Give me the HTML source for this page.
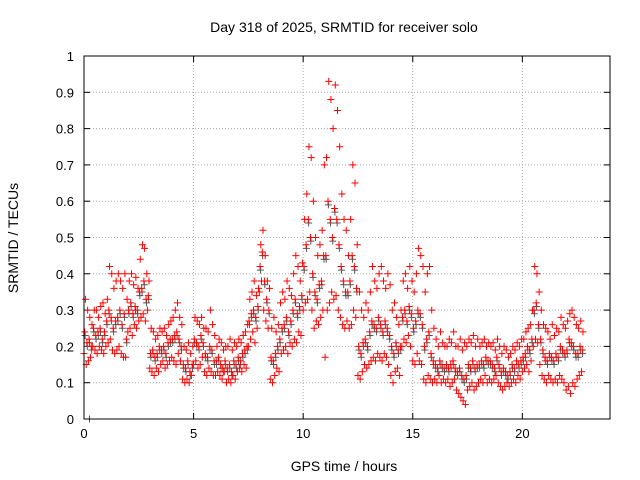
<!DOCTYPE html>
<html><head><meta charset="utf-8"><style>
body{margin:0;background:#fff;}
svg{display:block;font-family:"Liberation Sans",sans-serif;}
</style></head><body>
<svg id="chart" width="640" height="480">
<rect width="640" height="480" fill="#fff"/>
<text x="344" y="32" text-anchor="middle" font-size="14">Day 318 of 2025, SRMTID for receiver solo</text>
<text x="344" y="471" text-anchor="middle" font-size="14">GPS time / hours</text>
<text transform="translate(18,238) rotate(-90)" text-anchor="middle" font-size="14">SRMTID / TECUs</text>
<g id="grid"></g>
<g id="ticks"></g>
<g id="marks"></g>
<rect x="84" y="56" width="526" height="363" fill="none" stroke="#000" stroke-width="1"/>
</svg>
<script>
const xTicks=[0,5,10,15,20];
const yTicks=[0,0.1,0.2,0.3,0.4,0.5,0.6,0.7,0.8,0.9,1];
const yTickLabels=["0","0.1","0.2","0.3","0.4","0.5","0.6","0.7","0.8","0.9","1"];
const timeStep=0.1;
const loVals=[.18,.15,.16,.17,.20,.19,.18,.20,.19,.18,.20,.21,.22,.19,.18,.19,.20,.18,.17,.17,.24,.25,.23,.26,.25,.27,.28,.29,.27,.30,.14,.13,.12,.14,.13,.15,.16,.14,.15,.16,.17,.16,.15,.18,.16,.11,.10,.11,.10,.12,.15,.16,.14,.15,.17,.13,.12,.14,.13,.12,.12,.13,.12,.11,.13,.10,.11,.10,.12,.11,.13,.14,.13,.15,.14,.20,.22,.24,.21,.25,.35,.38,.30,.27,.25,.11,.10,.12,.14,.13,.18,.19,.20,.18,.21,.20,.22,.21,.24,.23,.30,.32,.33,.35,.30,.25,.27,.26,.28,.30,.17,.30,.32,.35,.33,.34,.30,.28,.26,.25,.27,.25,.26,.30,.28,.12,.11,.13,.15,.14,.15,.16,.17,.16,.18,.17,.16,.18,.17,.15,.12,.10,.13,.14,.12,.20,.22,.21,.23,.20,.16,.15,.18,.16,.15,.11,.10,.12,.11,.10,.11,.10,.12,.10,.11,.10,.11,.09,.10,.11,.08,.07,.06,.05,.04,.08,.09,.10,.08,.09,.10,.11,.10,.12,.10,.11,.10,.11,.12,.10,.09,.08,.09,.10,.09,.10,.11,.10,.12,.11,.13,.14,.15,.13,.16,.20,.22,.21,.15,.12,.11,.10,.12,.11,.10,.11,.10,.12,.11,.10,.08,.09,.07,.10,.09,.11,.12,.13];
const midVals=[.24,.21,.22,.20,.25,.23,.24,.25,.22,.24,.27,.30,.28,.25,.27,.28,.30,.26,.29,.22,.30,.32,.29,.31,.30,.35,.36,.38,.33,.34,.18,.19,.17,.18,.20,.19,.20,.18,.21,.22,.22,.23,.24,.22,.20,.15,.14,.16,.13,.15,.22,.21,.20,.23,.21,.18,.17,.20,.19,.16,.16,.17,.15,.14,.16,.14,.15,.13,.16,.15,.17,.16,.18,.19,.20,.27,.29,.30,.28,.31,.42,.46,.38,.33,.30,.17,.16,.18,.20,.22,.25,.26,.28,.24,.27,.30,.33,.29,.31,.34,.42,.48,.55,.50,.40,.35,.33,.37,.38,.45,.45,.60,.55,.50,.58,.55,.48,.42,.38,.35,.35,.38,.45,.42,.36,.20,.18,.21,.22,.20,.24,.27,.26,.25,.28,.26,.24,.27,.25,.23,.20,.18,.21,.19,.20,.28,.30,.27,.31,.29,.25,.27,.30,.29,.26,.20,.22,.24,.18,.16,.15,.14,.16,.15,.14,.15,.14,.15,.16,.14,.13,.14,.12,.11,.12,.15,.14,.16,.14,.15,.15,.16,.15,.17,.16,.16,.15,.14,.17,.15,.13,.14,.13,.12,.13,.15,.14,.16,.15,.16,.17,.18,.20,.19,.22,.30,.32,.26,.22,.19,.17,.16,.18,.17,.16,.18,.17,.20,.19,.18,.19,.22,.21,.20,.18,.18,.20,.19];
const hiVals=[.33,.30,.28,.26,.30,.30,.28,.31,.32,.29,.33,.42,.40,.36,.38,.40,.38,.36,.40,.33,.38,.40,.37,.39,.36,.44,.48,.47,.40,.38,.25,.24,.22,.23,.25,.24,.25,.23,.26,.27,.28,.30,.32,.28,.26,.20,.19,.21,.18,.20,.28,.27,.26,.28,.25,.25,.24,.30,.26,.23,.20,.22,.21,.19,.20,.20,.22,.19,.21,.20,.22,.21,.23,.24,.26,.33,.35,.38,.34,.36,.48,.52,.45,.38,.36,.25,.28,.24,.26,.32,.35,.33,.38,.36,.34,.40,.45,.42,.38,.43,.55,.62,.75,.72,.60,.50,.45,.48,.52,.70,.72,.93,.88,.80,.92,.85,.75,.62,.55,.52,.45,.55,.70,.65,.48,.35,.30,.28,.32,.30,.35,.42,.38,.36,.40,.42,.38,.36,.40,.37,.30,.32,.28,.26,.30,.38,.40,.36,.42,.38,.35,.40,.47,.45,.42,.35,.40,.42,.30,.25,.22,.20,.24,.21,.20,.20,.22,.21,.24,.20,.20,.22,.19,.21,.20,.22,.21,.23,.20,.22,.20,.21,.22,.20,.21,.20,.21,.19,.22,.20,.18,.20,.19,.17,.18,.20,.19,.21,.20,.22,.22,.24,.25,.26,.30,.42,.40,.35,.30,.26,.25,.24,.22,.26,.23,.25,.24,.28,.26,.25,.27,.29,.30,.28,.26,.25,.27,.24];
const outlierTimes=[0.25];
const outlierVals=[0];

const X0=84,X1=610,XMAX=24,Y0=419,Y1=56;
const sx=v=>X0+v/XMAX*(X1-X0);
const sy=v=>Y0-v*(Y0-Y1);
const NS="http://www.w3.org/2000/svg";
const grid=document.getElementById('grid'),ticks=document.getElementById('ticks'),marks=document.getElementById('marks');
function mk(tag,attrs,parent){const e=document.createElementNS(NS,tag);for(const k in attrs)e.setAttribute(k,attrs[k]);parent.appendChild(e);return e;}
xTicks.forEach(v=>{
  const x=sx(v);
  if(v>0){const g=mk('line',{x1:x,x2:x,y1:Y1,y2:Y0,stroke:'#aaa','stroke-dasharray':'1,2'},grid);
  
  }
  mk('line',{x1:x,x2:x,y1:Y0,y2:Y0-6,stroke:'#000'},ticks);
  mk('line',{x1:x,x2:x,y1:Y1,y2:Y1+6,stroke:'#000'},ticks);
  const t=mk('text',{x:x,y:Y0+19,'text-anchor':'middle','font-size':'13'},ticks);t.textContent=v;
  
  
});
yTicks.forEach((v,i)=>{
  const y=sy(v);
  if(v>0&&v<1){const g=mk('line',{x1:X0,x2:X1,y1:y,y2:y,stroke:'#aaa','stroke-dasharray':'1,2'},grid);
  
  }
  mk('line',{x1:X0,x2:X0+6,y1:y,y2:y,stroke:'#000'},ticks);
  mk('line',{x1:X1,x2:X1-6,y1:y,y2:y,stroke:'#000'},ticks);
  const t=mk('text',{x:X0-10,y:y+5,'text-anchor':'end','font-size':'13'},ticks);t.textContent=yTickLabels[i];
  
  
});
function plus(t,v,color,name){
  const x=sx(t),y=sy(v);
  const p=mk('path',{d:`M${x-3.5},${y}H${x+3.5}M${x},${y-3.5}V${y+3.5}`,stroke:color,'stroke-width':'1',fill:'none'},marks);
  
  
}
midVals.forEach((v,i)=>plus(i*timeStep+0.05,v-0.01,'#555','grey-point'));
loVals.forEach((v,i)=>plus(i*timeStep,v,'#f00','srmtid-point'));
midVals.forEach((v,i)=>plus(i*timeStep+0.033,v,'#f00','srmtid-point'));
hiVals.forEach((v,i)=>plus(i*timeStep+0.066,v,'#f00','srmtid-point'));
outlierTimes.forEach((t,i)=>plus(t,outlierVals[i],'#f00','srmtid-outlier'));
</script>
</body></html>
